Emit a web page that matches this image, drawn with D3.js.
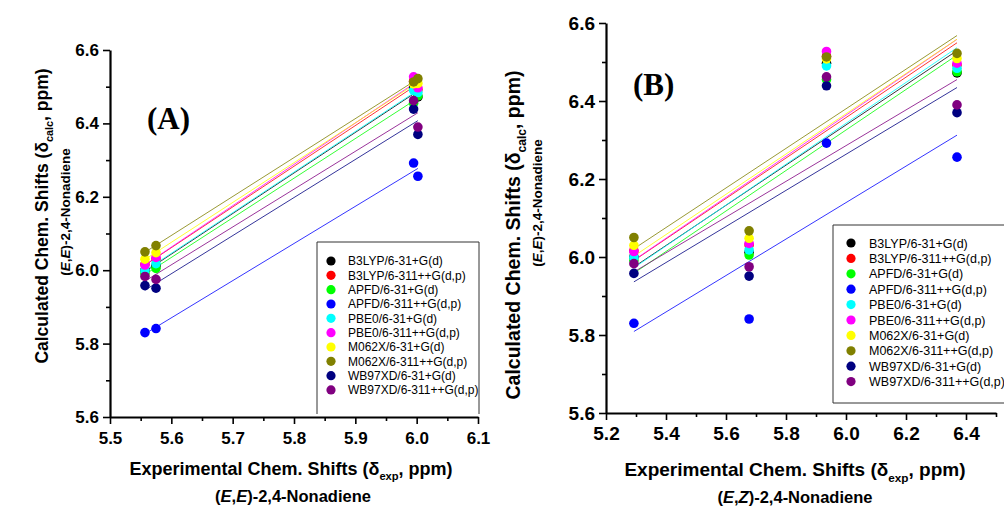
<!DOCTYPE html>
<html>
<head>
<meta charset="utf-8">
<script src="https://cdn.jsdelivr.net/npm/d3@7"></script>
<style>
  body { margin: 0; background: #fff; }
  svg { display: block; }
  text { font-family: "Liberation Sans", Arial, sans-serif; }
</style>
</head>
<body>
<svg id="chart" width="1004" height="509"></svg>
<script>
// Legend entries (functional / basis set) and their colours
const methods = [
  "B3LYP/6-31+G(d)", "B3LYP/6-311++G(d,p)", "APFD/6-31+G(d)", "APFD/6-311++G(d,p)",
  "PBE0/6-31+G(d)", "PBE0/6-311++G(d,p)", "M062X/6-31+G(d)", "M062X/6-311++G(d,p)",
  "WB97XD/6-31+G(d)", "WB97XD/6-311++G(d,p)"
];
const colors = ["#000000", "#ff0000", "#00ff00", "#0000ff", "#00ffff",
                "#ff00ff", "#ffff00", "#808000", "#000080", "#800080"];

// Experimental shifts (x)
const expEE = [5.557, 5.575, 5.995, 6.002];
const expEZ = [5.293, 5.677, 5.935, 6.370];

// Calculated shifts, same order as the experimental values
const b3lyp631 = [6.000, 6.012, 6.497, 6.472];
const b3lyp6311 = [6.016, 6.031, 6.515, 6.492];
const apfd631 = [5.991, 6.005, 6.455, 6.475];
const apfd6311 = [5.830, 5.841, 6.292, 6.256];
const pbe0631 = [5.999, 6.018, 6.490, 6.484];
const pbe06311 = [6.014, 6.035, 6.527, 6.497];
const m062x631 = [6.030, 6.048, 6.508, 6.509];
const m062x6311 = [6.050, 6.067, 6.513, 6.522];
const wb97xd631 = [5.958, 5.951, 6.439, 6.370];
const wb97xd6311 = [5.983, 5.975, 6.462, 6.390];
const calcShifts = [b3lyp631, b3lyp6311, apfd631, apfd6311, pbe0631,
                    pbe06311, m062x631, m062x6311, wb97xd631, wb97xd6311];

// Tick labels
const xTicksA = [5.5, 5.6, 5.7, 5.8, 5.9, 6.0, 6.1];
const xTicksB = [5.2, 5.4, 5.6, 5.8, 6.0, 6.2, 6.4];
const yTicks = [5.6, 5.8, 6.0, 6.2, 6.4, 6.6];

const svg = d3.select("#chart");
svg.append("rect").attr("width", 1004).attr("height", 509).attr("fill", "#fff");

// least squares fit
function linFit(xs, ys) {
  const mx = d3.mean(xs), my = d3.mean(ys);
  const sxy = d3.sum(xs, (v, i) => (v - mx) * (ys[i] - my));
  const sxx = d3.sum(xs, v => (v - mx) * (v - mx));
  const b = sxy / sxx;
  return x => my + b * (x - mx);
}

function addTitle(g, parts, size) {
  const t = g.append("text").attr("text-anchor", "middle")
    .style("font-weight", "bold").style("font-size", size + "px");
  parts.forEach(p => {
    const s = t.append("tspan").text(p.t);
    if (p.sub) s.style("font-size", (size * 0.62) + "px").attr("dy", size * 0.3);
    if (p.after) s.attr("dy", -size * 0.3);
    if (p.it) s.style("font-style", "italic");
  });
  return t;
}

function drawPanel(cfg) {
  const g = svg.append("g");
  const x = d3.scaleLinear().domain(cfg.xDomain).range([cfg.left, cfg.right]);
  const y = d3.scaleLinear().domain([5.6, 6.6]).range([cfg.bottom, cfg.top]);

  // fit lines
  calcShifts.forEach((ys, i) => {
    const f = linFit(cfg.xs, ys);
    const x0 = d3.min(cfg.xs), x1 = d3.max(cfg.xs);
    g.append("line")
      .attr("x1", x(x0)).attr("y1", y(f(x0)))
      .attr("x2", x(x1)).attr("y2", y(f(x1)))
      .attr("stroke", colors[i]).attr("stroke-width", 0.8);
  });

  // points
  calcShifts.forEach((ys, i) => {
    g.selectAll(null).data(ys).enter().append("circle")
      .attr("cx", (d, j) => x(cfg.xs[j]))
      .attr("cy", d => y(d))
      .attr("r", 4.8)
      .attr("fill", colors[i]);
  });

  // axes: minor ticks first, then major
  const xMinor = d3.range(cfg.xDomain[0] + cfg.xStep / 2, cfg.xDomain[1] + 1e-9, cfg.xStep);
  const yMinor = d3.range(5.7, 6.6, 0.2);

  g.append("g").attr("transform", `translate(0,${cfg.bottom})`)
    .call(d3.axisBottom(x).tickValues(xMinor).tickSize(4).tickFormat(""))
    .call(a => a.select(".domain").remove())
    .selectAll("line").attr("stroke-width", 1.6);
  g.append("g").attr("transform", `translate(${cfg.left},0)`)
    .call(d3.axisLeft(y).tickValues(yMinor).tickSize(4).tickFormat(""))
    .call(a => a.select(".domain").remove())
    .selectAll("line").attr("stroke-width", 1.6);

  const xAxis = g.append("g").attr("transform", `translate(0,${cfg.bottom})`)
    .call(d3.axisBottom(x).tickValues(cfg.xTicks).tickSize(7).tickSizeOuter(0)
      .tickPadding(cfg.xPad).tickFormat(d3.format(".1f")));
  const yAxis = g.append("g").attr("transform", `translate(${cfg.left},0)`)
    .call(d3.axisLeft(y).tickValues(yTicks).tickSize(7).tickSizeOuter(0)
      .tickPadding(4).tickFormat(d3.format(".1f")));
  [xAxis, yAxis].forEach(a => {
    a.select(".domain").attr("stroke-width", 2.2);
    a.selectAll(".tick line").attr("stroke-width", 1.6);
    a.selectAll("text").style("font-family", "'Liberation Sans', Arial, sans-serif")
      .style("font-weight", "bold").style("font-size", cfg.tickFont + "px").attr("fill", "#000");
  });

  // legend
  const lg = cfg.legend;
  g.append("path")
    .attr("d", `M${lg.x0},${lg.y1}V${lg.y0}H${lg.x1}V${lg.y1}` + (lg.closed ? `H${lg.x0}` : ""))
    .attr("fill", "none").attr("stroke", "#333").attr("stroke-width", 1);
  const rows = g.selectAll(null).data(methods).enter().append("g")
    .attr("transform", (d, i) => `translate(0,${lg.rowY + i * lg.step})`);
  rows.append("circle").attr("cx", lg.dotX).attr("r", 4.6).attr("fill", (d, i) => colors[i]);
  rows.append("text").attr("x", lg.textX).attr("dy", "0.36em")
    .style("font-size", lg.font + "px").text(d => d);

  // panel letter
  g.append("text").attr("x", cfg.letter.x).attr("y", cfg.letter.y)
    .style("font-family", "'Liberation Serif', 'Times New Roman', serif")
    .style("font-weight", "bold").style("font-size", "31px").text(cfg.letter.t);

  // x title
  addTitle(g, [{ t: "Experimental Chem. Shifts (δ" }, { t: "exp", sub: true }, { t: ", ppm)", after: true }], cfg.xTitle.size)
    .attr("x", cfg.xTitle.x).attr("y", cfg.xTitle.y);
  addTitle(g, [{ t: "(" }, { t: "E", it: true }, { t: "," }, { t: cfg.isomer, it: true }, { t: ")-2,4-Nonadiene" }], cfg.xTitle.size2)
    .attr("x", cfg.xTitle.x2).attr("y", cfg.xTitle.y2);

  // y title
  addTitle(g, [{ t: "Calculated Chem. Shifts (δ" }, { t: "calc", sub: true }, { t: ", ppm)", after: true }], cfg.yTitle.size)
    .attr("transform", `translate(${cfg.yTitle.x},${cfg.yTitle.y}) rotate(-90)`);
  addTitle(g, [{ t: "(" }, { t: "E", it: true }, { t: "," }, { t: "E", it: true }, { t: ")-2,4-Nonadiene" }], cfg.yTitle.size2)
    .attr("transform", `translate(${cfg.yTitle.x2},${cfg.yTitle.y2}) rotate(-90)`);
}

drawPanel({
  xs: expEE, xDomain: [5.5, 6.1], xStep: 0.1, xTicks: xTicksA,
  left: 110, right: 478, top: 50, bottom: 417, tickFont: 17, xPad: 8,
  isomer: "E",
  legend: { x0: 317, x1: 479, y0: 242, y1: 414, closed: false, dotX: 331, textX: 348, rowY: 261, step: 14.33, font: 12 },
  letter: { t: "(A)", x: 147, y: 129 },
  xTitle: { x: 291, y: 475, size: 18, x2: 293, y2: 502, size2: 16.5 },
  yTitle: { x: 48, y: 216, size: 17.5, x2: 70, y2: 212, size2: 13.5 }
});

drawPanel({
  xs: expEZ, xDomain: [5.2, 6.5], xStep: 0.2, xTicks: xTicksB,
  left: 606, right: 996, top: 23, bottom: 413, tickFont: 19, xPad: 7,
  isomer: "Z",
  legend: { x0: 833, x1: 1010, y0: 225, y1: 403, closed: true, dotX: 851, textX: 869, rowY: 243, step: 15.4, font: 12.5 },
  letter: { t: "(B)", x: 633, y: 95 },
  xTitle: { x: 795, y: 476, size: 19, x2: 795, y2: 503, size2: 16.5 },
  yTitle: { x: 520, y: 235, size: 19.5, x2: 542, y2: 203, size2: 13.5 }
});
</script>
</body>
</html>
